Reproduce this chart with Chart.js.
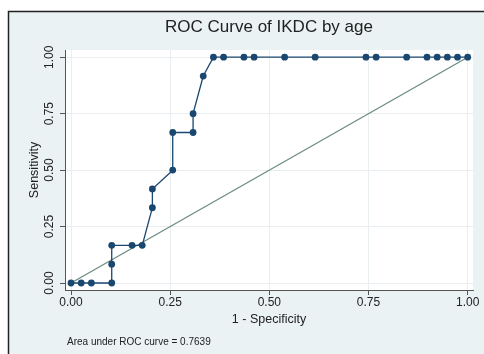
<!DOCTYPE html>
<html>
<head>
<meta charset="utf-8">
<script src="https://cdn.jsdelivr.net/npm/chart.js@4/dist/chart.umd.min.js"></script>
<style>
  html, body { margin: 0; padding: 0; background: #ffffff; }
  #wrap { width: 484px; height: 354px; }
</style>
</head>
<body>
<div id="wrap"><canvas id="c" width="484" height="354"></canvas></div>
<script>
// ROC points (1 - Specificity, Sensitivity)
const fpr = [0, 0.0256, 0.0513, 0.1026, 0.1026, 0.1026, 0.1538, 0.1795, 0.2051, 0.2051,
             0.2564, 0.2564, 0.3077, 0.3077, 0.3333, 0.3590, 0.3846, 0.4359, 0.4615, 0.5385,
             0.6154, 0.7436, 0.7692, 0.8462, 0.8974, 0.9231, 0.9487, 0.9744, 1.0];
const tpr = [0, 0, 0, 0, 0.0833, 0.1667, 0.1667, 0.1667, 0.3333, 0.4167,
             0.5, 0.6667, 0.6667, 0.75, 0.9167, 1, 1, 1, 1, 1,
             1, 1, 1, 1, 1, 1, 1, 1, 1];
const refX = [0, 1];
const refY = [0, 1];
const tickValues = [0, 0.25, 0.5, 0.75, 1];
const tickLabels = ["0.00", "0.25", "0.50", "0.75", "1.00"];
const titleText = "ROC Curve of IKDC by age";
const xTitle = "1 - Specificity";
const yTitle = "Sensitivity";
const noteText = "Area under ROC curve = 0.7639";

const FONT = "'Liberation Sans', Arial, Helvetica, sans-serif";
const NAVY = "#1a476f";

const rocPoints = fpr.map((x, i) => ({ x: x, y: tpr[i] }));
const refPoints = refX.map((x, i) => ({ x: x, y: refY[i] }));

const bgPlugin = {
  id: 'bg',
  beforeDraw(chart) {
    const ctx = chart.ctx;
    const W = chart.width, H = chart.height;
    ctx.save();
    ctx.fillStyle = '#ffffff';
    ctx.fillRect(0, 0, W, H);
    ctx.fillStyle = '#eaf2f3';
    ctx.fillRect(8, 11, W - 8, H - 11);
    ctx.strokeStyle = '#222222';
    ctx.lineWidth = 1.5;
    ctx.beginPath();
    ctx.moveTo(8.5, H);
    ctx.lineTo(8.5, 11.5);
    ctx.lineTo(W, 11.5);
    ctx.stroke();
    const a = chart.chartArea;
    ctx.fillStyle = '#ffffff';
    ctx.fillRect(a.left, a.top, a.right - a.left, a.bottom - a.top);
    ctx.restore();
  },
  afterDraw(chart) {
    const ctx = chart.ctx;
    const a = chart.chartArea;
    const ys = chart.scales.y;
    const cx = (a.left + a.right) / 2;
    const cy = (a.top + a.bottom) / 2;
    ctx.save();
    ctx.fillStyle = '#222222';
    ctx.textAlign = 'center';
    ctx.textBaseline = 'middle';
    // title
    ctx.font = "17px " + FONT;
    ctx.fillText(titleText, cx, 27);
    // y tick labels (rotated)
    ctx.font = "12px " + FONT;
    tickValues.forEach((v, i) => {
      const py = ys.getPixelForValue(v);
      ctx.save();
      ctx.translate(50, py);
      ctx.rotate(-Math.PI / 2);
      ctx.fillText(tickLabels[i], 0, 0);
      ctx.restore();
    });
    // axis titles
    ctx.font = "12.5px " + FONT;
    ctx.fillText(xTitle, cx, 320);
    ctx.save();
    ctx.translate(35, cy);
    ctx.rotate(-Math.PI / 2);
    ctx.fillText(yTitle, 0, 0);
    ctx.restore();
    // note
    ctx.font = "10px " + FONT;
    ctx.textAlign = 'left';
    ctx.fillText(noteText, 67, 342);
    ctx.restore();
  }
};

const fixedTicks = (scale) => {
  scale.ticks = tickValues.map(v => ({ value: v }));
};

new Chart(document.getElementById('c'), {
  type: 'scatter',
  data: {
    datasets: [
      {
        label: 'Reference',
        data: refPoints,
        showLine: true,
        borderColor: '#6a8a7e',
        borderWidth: 1.2,
        pointRadius: 0,
        fill: false,
        order: 2
      },
      {
        label: 'ROC',
        data: rocPoints,
        showLine: true,
        borderColor: NAVY,
        backgroundColor: NAVY,
        borderWidth: 1.3,
        pointRadius: 3.4,
        pointBorderWidth: 0,
        fill: false,
        order: 1
      }
    ]
  },
  options: {
    responsive: false,
    animation: false,
    devicePixelRatio: 1,
    layout: { padding: { top: 50, right: 11, bottom: 0, left: 0 } },
    plugins: {
      legend: { display: false },
      title: { display: false },
      tooltip: { enabled: false }
    },
    scales: {
      x: {
        type: 'linear',
        min: -0.0152,
        max: 1.0134,
        afterBuildTicks: fixedTicks,
        afterFit(scale) { scale.height = 64; },
        grid: { color: '#e9eef0', lineWidth: 1, tickColor: '#555555', tickLength: 5, drawTicks: true },
        border: { display: true, color: '#555555', width: 1 },
        ticks: {
          color: '#222222',
          font: { family: FONT, size: 12 },
          padding: 0,
          maxRotation: 0,
          callback: (v) => tickLabels[tickValues.indexOf(v)]
        }
      },
      y: {
        type: 'linear',
        min: -0.031,
        max: 1.032,
        afterBuildTicks: fixedTicks,
        afterFit(scale) { scale.width = 65; },
        grid: { color: '#e9eef0', lineWidth: 1, tickColor: '#555555', tickLength: 5, drawTicks: true },
        border: { display: true, color: '#555555', width: 1 },
        ticks: { display: false }
      }
    }
  },
  plugins: [bgPlugin]
});
</script>
</body>
</html>
